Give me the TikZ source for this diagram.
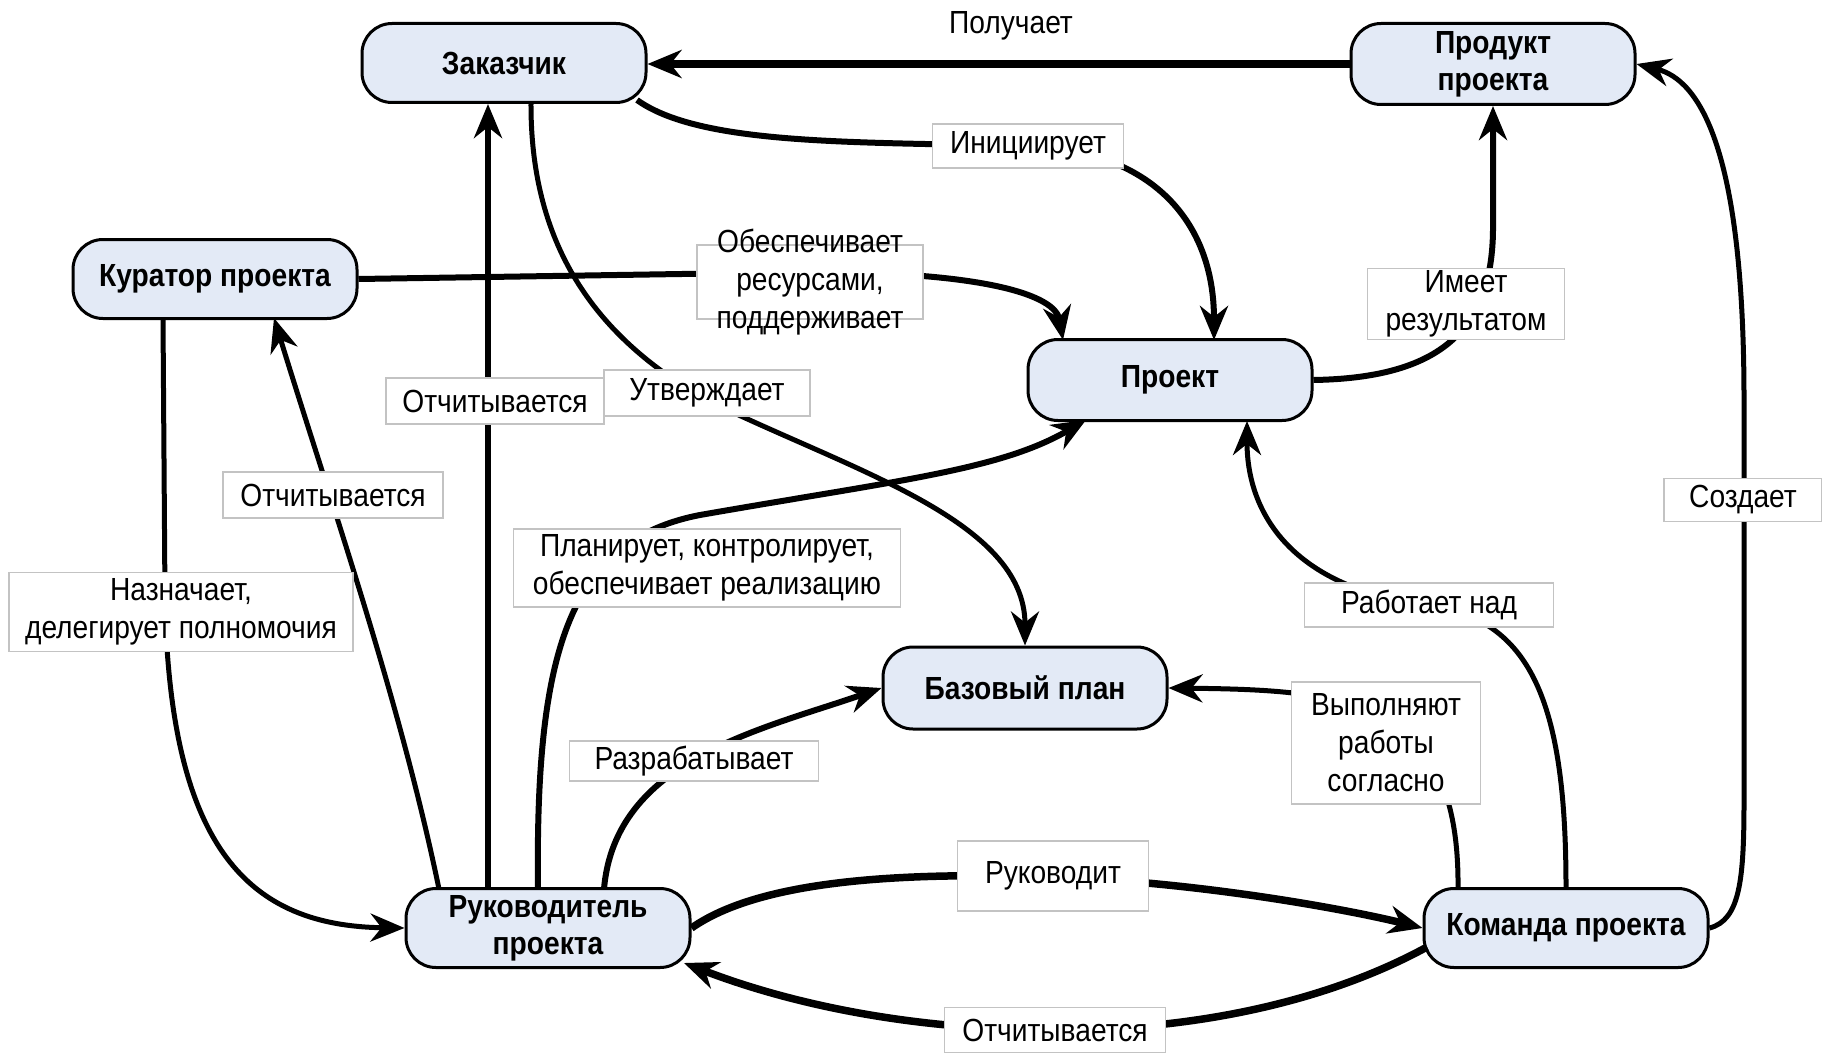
\documentclass[tikz,border=0pt]{standalone}
\usepackage{fontspec}
\setmainfont{Liberation Sans}[FakeStretch=0.88]
\usetikzlibrary{arrows.meta}
\definecolor{nodefill}{RGB}{227,234,246}
\definecolor{labborder}{RGB}{195,195,195}
\begin{document}
\begin{tikzpicture}[x=1pt,y=-1pt,
  ent/.style={draw=black, line width=3pt, rounded corners=30pt, fill=nodefill,
    minimum width=284pt, minimum height=79pt, align=center, inner sep=0pt,
    font=\fontsize{32}{37}\selectfont\bfseries},
  lab/.style={draw=labborder, line width=1.5pt, fill=white, align=center, inner sep=0pt,
    font=\fontsize{32}{38}\selectfont},
  conn/.style={line width=6pt, -{Stealth[length=34pt,width=28pt]}},
  thinconn/.style={conn, line width=5pt},
  thickconn/.style={conn, line width=7.5pt},
]
\fill[white] (0,0) rectangle (1822,1054);
\useasboundingbox (0,0) rectangle (1822,1054);

% entities
\node[ent] (zak)  at (504,63)   {Заказчик};
\node[ent, minimum height=81pt] (prod) at (1493,64) {Продукт\\проекта};
\node[ent] (kur)  at (215,279)  {Куратор проекта};
\node[ent, minimum height=81pt] (proj) at (1170,380) {Проект};
\node[ent, minimum height=82pt] (base) at (1025,688) {Базовый план};
\node[ent] (ruk)  at (548,928)  {Руководитель\\проекта};
\node[ent] (kom)  at (1566,928) {Команда проекта};

% connectors
\draw[thickconn] (prod.west) -- (prod.west -| zak.east);
\draw[conn] ([shift={(133,37)}]zak.center) .. controls (700,145) and (850,142) .. (1028,146)
  .. controls (1150,150) and (1214,220) .. ([shift={(44,-40)}]proj.center);
\draw[conn] (kur.east) -- (811,272) .. controls (985,272) and (1055,295) .. ([shift={(-107,-40)}]proj.center);
\draw[conn] (proj.east) .. controls (1440,378) and (1492,330) .. (1493,230) -- (prod.south);
\draw[thinconn] ([shift={(27,39)}]zak.center) .. controls (530,250) and (600,340) .. (707,400)
  .. controls (850,470) and (1025,520) .. (base.north);
\draw[conn] ([xshift=-60pt]ruk.north) -- ([xshift=-60pt]ruk.north |- zak.south);
\draw[thinconn] ([shift={(-109,-39)}]ruk.center) .. controls (400,700) and (330,500) .. ([shift={(59,39)}]kur.center);
\draw[thinconn] ([shift={(-52,39)}]kur.center) -- (165,600) .. controls (170,850) and (250,926) .. (ruk.west);
\draw[conn] ([shift={(-10,-39)}]ruk.center) .. controls (535,650) and (570,540) .. (700,515)
  .. controls (900,480) and (1000,470) .. ([shift={(-84,40)}]proj.center);
\draw[conn] ([shift={(56,-39)}]ruk.center) .. controls (615,760) and (760,730) .. (base.west);
\draw[thickconn] (ruk.east) .. controls (760,880) and (900,872) .. (1053,877)
  .. controls (1200,882) and (1350,910) .. (kom.west);
\draw[thickconn] ([shift={(-139,19)}]kom.center) .. controls (1330,1000) and (1200,1030) .. (1055,1030)
  .. controls (900,1030) and (780,1000) .. ([shift={(136,35)}]ruk.center);
\draw[thinconn] ([shift={(-108,-39)}]kom.center) .. controls (1460,700) and (1350,690) .. (base.east);
\draw[thinconn] (kom.north) .. controls (1566,700) and (1530,620) .. (1429,605)
  .. controls (1300,590) and (1247,520) .. ([shift={(77,41)}]proj.center);
\draw[thinconn] (kom.east) .. controls (1740,920) and (1744,880) .. (1744,800) -- (1744,400)
  .. controls (1744,150) and (1700,80) .. (prod.east);

% labels
\node[font=\fontsize{32}{38}\selectfont] (lget) at (1011,26) {Получает};
\node[lab, minimum width=191pt, minimum height=44pt] (linit) at (1028,146) {Инициирует};
\node[lab, minimum width=226pt, minimum height=74pt, inner ysep=-17pt] (lres) at (810,282) {Обеспечивает\\ресурсами,\\поддерживает};
\node[lab, minimum width=197pt, minimum height=71pt] (lhas) at (1466,304) {Имеет\\результатом};
\node[lab, minimum width=218pt, minimum height=46pt] (lrep1) at (495,401) {Отчитывается};
\node[lab, minimum width=206pt, minimum height=46pt] (lappr) at (707,393) {Утверждает};
\node[lab, minimum width=220pt, minimum height=46pt] (lrep2) at (333,495) {Отчитывается};
\node[lab, minimum width=344pt, minimum height=79pt] (lassign) at (181,612) {Назначает,\\делегирует полномочия};
\node[lab, minimum width=387pt, minimum height=78pt] (lplan) at (707,568) {Планирует, контролирует,\\обеспечивает реализацию};
\node[lab, minimum width=158pt, minimum height=43pt] (lcreate) at (1743,500) {Создает};
\node[lab, minimum width=249pt, minimum height=44pt] (lwork) at (1429,605) {Работает над};
\node[lab, minimum width=189pt, minimum height=122pt] (ldo) at (1386,743) {Выполняют\\работы\\согласно};
\node[lab, minimum width=249pt, minimum height=40pt] (ldev) at (694,761) {Разрабатывает};
\node[lab, minimum width=191pt, minimum height=70pt] (llead) at (1053,876) {Руководит};
\node[lab, minimum width=221pt, minimum height=45pt] (lrep3) at (1055,1030) {Отчитывается};
\end{tikzpicture}
\end{document}
